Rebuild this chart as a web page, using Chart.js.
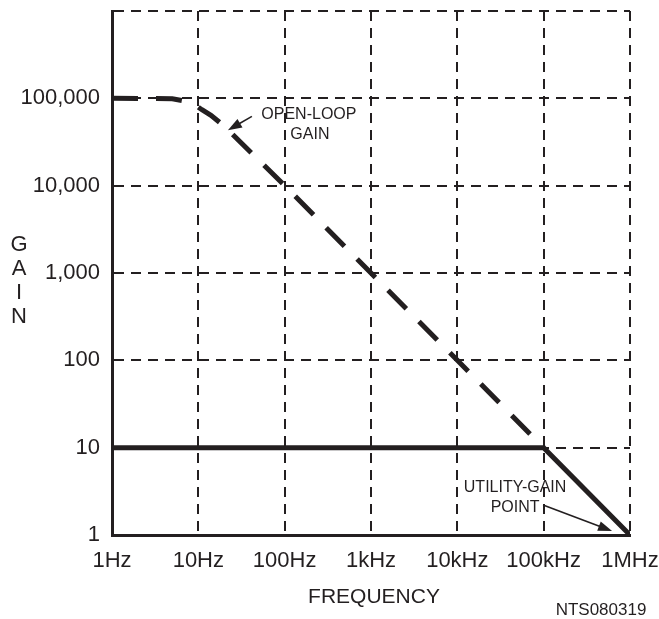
<!DOCTYPE html>
<html>
<head>
<meta charset="utf-8">
<script src="https://cdn.jsdelivr.net/npm/chart.js@4"></script>
<style>
  body { margin: 0; background: #fff; }
  canvas { display: block; }
</style>
</head>
<body>
<canvas id="gainChart" width="659" height="619"></canvas>
<script>
// decade ticks
const freqTicks = [1, 10, 100, 1e3, 1e4, 1e5, 1e6];
const freqLabels = ['1Hz', '10Hz', '100Hz', '1kHz', '10kHz', '100kHz', '1MHz'];
const gainTicks = [1, 10, 100, 1e3, 1e4, 1e5, 1e6];
const gainLabels = ['1', '10', '100', '1,000', '10,000', '100,000', ''];

// open-loop gain (dashed)
const openLoopFreq = [1, 5, 7, 9, 11, 14, 20, 100, 1e3, 1e4, 1e5];
const openLoopGain = [100000, 99000, 93000, 85000, 74000, 64000, 48000, 10000, 1000, 100, 10];

// closed loop, gain of 10 (solid)
const closedFreq = [1, 1e5, 1e6];
const closedGain = [10, 10, 1];

const ink = '#231f20';
const fontFamily = '"Liberation Sans", Arial, Helvetica, sans-serif';

function toPoints(xs, ys) {
  return xs.map(function(x, i) { return { x: x, y: ys[i] }; });
}

function decadeTicks(values) {
  return function(scale) {
    scale.ticks = values.map(function(v) { return { value: v }; });
  };
}

function noEdgePadding(scale) {
  scale.paddingTop = 0;
  scale.paddingBottom = 0;
  scale.paddingLeft = 0;
  scale.paddingRight = 0;
}

const annotations = {
  id: 'annotations',
  afterDraw: function(chart) {
    const ctx = chart.ctx;
    const xs = chart.scales.x;
    const ys = chart.scales.y;
    ctx.save();
    ctx.fillStyle = ink;
    ctx.strokeStyle = ink;
    ctx.textAlign = 'center';
    ctx.textBaseline = 'middle';

    // axis titles
    ctx.font = '21px ' + fontFamily;
    ctx.fillText('FREQUENCY', 374, 597);
    ctx.font = '22px ' + fontFamily;
    ['G', 'A', 'I', 'N'].forEach(function(ch, i) {
      ctx.fillText(ch, 19, 245 + i * 24);
    });
    ctx.font = '17px ' + fontFamily;
    ctx.fillText('NTS080319', 601, 610);

    // callouts, anchored at the arrow tip in data space
    function arrow(x1, y1, x2, y2) {
      const a = Math.atan2(y2 - y1, x2 - x1);
      ctx.lineWidth = 1.6;
      ctx.beginPath();
      ctx.moveTo(x1, y1);
      ctx.lineTo(x2 - 10 * Math.cos(a), y2 - 10 * Math.sin(a));
      ctx.stroke();
      ctx.beginPath();
      ctx.moveTo(x2, y2);
      ctx.lineTo(x2 - 14 * Math.cos(a) + 5 * Math.sin(a), y2 - 14 * Math.sin(a) - 5 * Math.cos(a));
      ctx.lineTo(x2 - 14 * Math.cos(a) - 5 * Math.sin(a), y2 - 14 * Math.sin(a) + 5 * Math.cos(a));
      ctx.closePath();
      ctx.fill();
    }

    ctx.font = '16px ' + fontFamily;
    let tx = xs.getPixelForValue(22);
    let ty = ys.getPixelForValue(43000);
    arrow(tx + 24, ty - 14, tx, ty);
    ctx.fillText('OPEN-LOOP', tx + 81, ty - 16);
    ctx.fillText('GAIN', tx + 82, ty + 4);

    tx = xs.getPixelForValue(620000);
    ty = ys.getPixelForValue(1.11);
    arrow(tx - 69, ty - 26, tx, ty);
    ctx.fillText('UTILITY-GAIN', tx - 97, ty - 43);
    ctx.fillText('POINT', tx - 97, ty - 23);

    ctx.restore();
  }
};

const ctx = document.getElementById('gainChart').getContext('2d');
const gainChart = new Chart(ctx, {
  type: 'line',
  data: {
    datasets: [{
      label: 'Open-loop gain',
      data: toPoints(openLoopFreq, openLoopGain),
      borderColor: ink,
      borderWidth: 5,
      borderDash: [26, 18],
      borderCapStyle: 'butt',
      pointRadius: 0,
      fill: false,
      tension: 0
    }, {
      label: 'Closed-loop gain',
      data: toPoints(closedFreq, closedGain),
      borderColor: ink,
      borderWidth: 5,
      borderCapStyle: 'butt',
      pointRadius: 0,
      fill: false,
      tension: 0
    }]
  },
  options: {
    responsive: false,
    animation: false,
    layout: { padding: { left: 0, right: 29, top: 11, bottom: 0 } },
    plugins: {
      legend: { display: false },
      tooltip: { enabled: false }
    },
    scales: {
      x: {
        type: 'logarithmic',
        min: 1,
        max: 1e6,
        afterBuildTicks: decadeTicks(freqTicks),
        afterFit: function(scale) { scale.height = 84; noEdgePadding(scale); },
        grid: { color: ink, lineWidth: 2, drawTicks: false },
        border: { display: true, color: ink, width: 3, dash: [10, 7] },
        ticks: {
          autoSkip: false,
          maxRotation: 0,
          padding: 13,
          color: ink,
          font: { family: fontFamily, size: 22 },
          callback: function(value) {
            const i = freqTicks.indexOf(value);
            return i >= 0 ? freqLabels[i] : '';
          }
        }
      },
      y: {
        type: 'logarithmic',
        min: 1,
        max: 1e6,
        afterBuildTicks: decadeTicks(gainTicks),
        afterFit: function(scale) { scale.width = 112; noEdgePadding(scale); },
        grid: { color: ink, lineWidth: 2, drawTicks: false },
        border: { display: true, color: ink, width: 3, dash: [10, 7] },
        ticks: {
          autoSkip: false,
          padding: 12,
          color: ink,
          font: { family: fontFamily, size: 22 },
          callback: function(value) {
            const i = gainTicks.indexOf(value);
            return i >= 0 ? gainLabels[i] : '';
          }
        }
      }
    }
  },
  plugins: [annotations]
});
</script>
</body>
</html>
